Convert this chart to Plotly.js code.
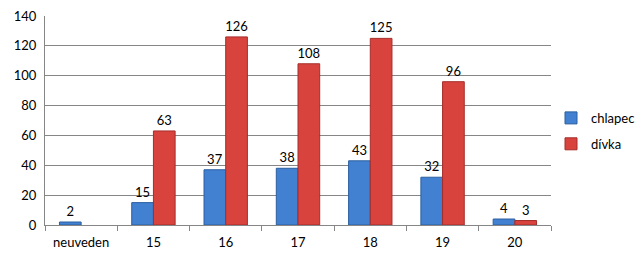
<!DOCTYPE html>
<html><head><meta charset="utf-8">
<script src="https://cdn.plot.ly/plotly-3.0.1.min.js"></script>
<style>html,body{margin:0;padding:0;background:#fff}#c{width:642px;height:264px}</style>
</head><body><div id="c"></div>
<script>
const categories = ["neuveden","15","16","17","18","19","20"];
const chlapec = [2,15,37,38,43,32,4];
const divka = [null,63,126,108,125,96,3];
const seriesNames = ["chlapec","dívka"];

const font = {family:"Lato, 'Open Sans', sans-serif", size:13, color:"#000"};
const traces = [
  {type:"bar", x:categories, y:chlapec, name:seriesNames[0], legendgroup:"a",
   marker:{color:"#4281d2", line:{color:"#2b5e9f", width:1}},
   text:chlapec.map(v=>v==null?"":String(v)), textposition:"outside", cliponaxis:false,
   constraintext:"none", textfont:font},
  {type:"bar", x:categories, y:divka, name:seriesNames[1], legendgroup:"b",
   marker:{color:"#d8433e", line:{color:"#a52d2a", width:1}},
   text:divka.map(v=>v==null?"":String(v)), textposition:"outside", cliponaxis:false,
   constraintext:"none", textfont:font}
];
const layout = {
  width:642, height:264,
  margin:{l:45, r:91, t:16, b:39, autoexpand:false},
  paper_bgcolor:"#fff", plot_bgcolor:"#fff",
  font:font,
  barmode:"group", bargap:0.4, bargroupgap:0,
  showlegend:true,
  legend:{x:1.0, y:0.45, xanchor:"left", yanchor:"middle", traceorder:"grouped",
          tracegroupgap:6, font:{family:font.family, size:13, color:"#000"},
          itemwidth:30, bgcolor:"rgba(0,0,0,0)"},
  xaxis:{type:"category", showline:true, linecolor:"#868686", linewidth:1,
         ticks:"outside", tickson:"boundaries", ticklen:5, tickcolor:"#868686",
         ticklabelstandoff:5, showgrid:false, tickfont:font, fixedrange:true},
  yaxis:{range:[0,140], dtick:20, showline:true, linecolor:"#868686", linewidth:1,
         gridcolor:"#868686", gridwidth:1, zeroline:false, ticks:"", ticklen:4,
         ticklabelstandoff:5, tickfont:font, fixedrange:true}
};
Plotly.newPlot("c", traces, layout, {displayModeBar:false, staticPlot:true});
</script></body></html>
